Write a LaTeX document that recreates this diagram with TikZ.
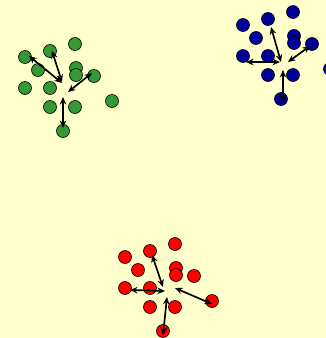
\documentclass[tikz,border=0pt]{standalone}
\usetikzlibrary{arrows.meta,calc}
\definecolor{bg}{HTML}{FFFFCC}
\definecolor{cgreen}{HTML}{339933}
\definecolor{cblue}{HTML}{000099}
\definecolor{cred}{HTML}{FF0000}
\tikzset{
  dot/.style={circle,draw=black,line width=0.6pt,minimum size=13pt,inner sep=0pt},
  arr/.style={line width=1.7pt,{Stealth[length=7.5pt,width=6.5pt]}-{Stealth[length=7.5pt,width=6.5pt]}}
}
\newcommand\mycluster[4]{%
  \begin{scope}[shift={(#2,#3)}]
    \foreach \px/\py [count=\i] in {25/57,50/51,75/44,38/70,76/68,76/75,94/76,25/88,50/88,50/107,75/107,112/101,63/131}
      \node[dot,fill=#4] (#1\i) at (\px,\py) {};
  \end{scope}}
\begin{document}
\begin{tikzpicture}[x=1pt,y=-1pt]
  \useasboundingbox (0,0) rectangle (326,338);
  \clip (0,0) rectangle (326,338);
  \fill[bg] (0,0) rectangle (326,338);
  \mycluster{g}{0}{0}{cgreen}
  \mycluster{b}{218}{-32}{cblue}
  \mycluster{r}{100}{200}{cred}
  % green arrows
  \coordinate (ga) at (62,83);
  \coordinate (gb) at (62,82);
  \coordinate (gc) at (68,92);
  \coordinate (gd) at (63,97);
  \draw[arr] (ga) -- ($(g1)+(4,-1)$);
  \draw[arr] (gb) -- ($(g2)+(2,0)$);
  \draw[arr] (gc) -- ($(g7)+(-2,-3)$);
  \draw[arr] (gd) -- ($(g13)+(0,-3)$);
  % blue arrows
  \coordinate (ba) at (281,62);
  \coordinate (bb) at (280,62);
  \coordinate (bc) at (288,62);
  \coordinate (bd) at (283,70);
  \draw[arr] (ba) -- ($(b2)+(3,8)$);
  \draw[arr] (bb) -- ($(b8)+(3,6)$);
  \draw[arr] (bc) -- ($(b7)+(-2,2)$);
  \draw[arr] (bd) -- ($(b13)+(2,4)$);
  % red arrows
  \coordinate (ra) at (163,287);
  \coordinate (rb) at (165,291);
  \coordinate (rc) at (175,288);
  \coordinate (rd) at (167,297);
  \draw[arr] (ra) -- ($(r2)+(2,4)$);
  \draw[arr] (rb) -- ($(r8)+(5,2)$);
  \draw[arr] (rc) -- ($(r12)+(0,3)$);
  \draw[arr] (rd) -- ($(r13)+(0,4)$);
\end{tikzpicture}
\end{document}
